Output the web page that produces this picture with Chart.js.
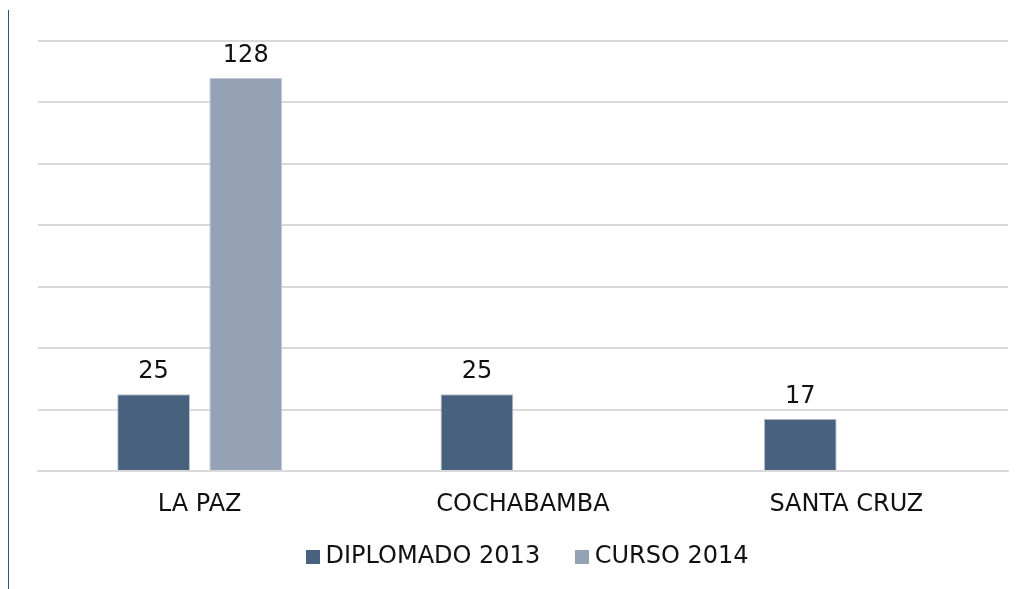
<!DOCTYPE html>
<html>
<head>
<meta charset="utf-8">
<script src="https://cdn.jsdelivr.net/npm/chart.js@4"></script>
<style>
  html, body { margin: 0; padding: 0; background: #fff; }
  #wrap { position: relative; width: 1022px; height: 589px; }
  #edge { position: absolute; left: 8px; top: 10px; width: 1px; height: 579px; background: #1f5a7c; }
</style>
</head>
<body>
<div id="wrap">
  <canvas id="chart" width="1022" height="589"></canvas>
  <div id="edge"></div>
</div>
<script>
// data
const categories = ["LA PAZ", "COCHABAMBA", "SANTA CRUZ"];
const diplomado2013 = [25, 25, 17];
const curso2014 = [128, null, null];
const seriesNames = ["DIPLOMADO 2013", "CURSO 2014"];
const yMax = 140;
const yStep = 20;

const fontFamily = "'DejaVu Sans', Verdana, sans-serif";

// legend swatch: 14px square, drawn so the text sits close to it
function swatch(color) {
  const c = document.createElement("canvas");
  c.width = 14;
  c.height = 14;
  const g = c.getContext("2d");
  g.fillStyle = color;
  g.fillRect(0, 0, 14, 14);
  return c;
}

// value labels above the bars
const valueLabels = {
  id: "valueLabels",
  afterDatasetsDraw(chart) {
    const ctx = chart.ctx;
    ctx.save();
    ctx.font = "24px " + fontFamily;
    ctx.fillStyle = "#111";
    ctx.textAlign = "center";
    ctx.textBaseline = "alphabetic";
    chart.data.datasets.forEach((ds, i) => {
      chart.getDatasetMeta(i).data.forEach((bar, j) => {
        if (ds.data[j] == null) return;
        ctx.fillText(String(ds.data[j]), bar.x, bar.y - 16);
      });
    });
    ctx.restore();
  }
};

document.addEventListener("DOMContentLoaded", () => {
  const ctx = document.getElementById("chart").getContext("2d");
  new Chart(ctx, {
    type: "bar",
    data: {
      labels: categories,
      datasets: [
        {
          label: seriesNames[0],
          data: diplomado2013,
          backgroundColor: "#48617f",
          borderColor: "#b9c3d1",
          borderWidth: 1,
          pointStyle: swatch("#48617f"),
        },
        {
          label: seriesNames[1],
          data: curso2014,
          backgroundColor: "#95a1b4",
          borderColor: "#c3cad6",
          borderWidth: 1,
          pointStyle: swatch("#95a1b4"),
        },
      ],
    },
    options: {
      responsive: false,
      animation: false,
      layout: { padding: { top: 41, left: 38, right: 0, bottom: 10 } },
      datasets: {
        bar: { categoryPercentage: 0.57, barPercentage: 0.79 },
      },
      scales: {
        x: {
          grid: { display: false, drawTicks: false },
          border: { display: true, color: "#d9d9d9", width: 2 },
          ticks: {
            padding: 19,
            color: "#111",
            font: { family: fontFamily, size: 24 },
          },
          afterFit(scale) { scale.height = 64; },
        },
        y: {
          position: "right",
          min: 0,
          max: yMax,
          ticks: { display: false, stepSize: yStep },
          grid: { color: "#d9d9d9", lineWidth: 2, drawTicks: false },
          border: { display: false },
          afterFit(scale) { scale.width = 14; },
        },
      },
      plugins: {
        legend: {
          position: "bottom",
          labels: {
            usePointStyle: true,
            pointStyleWidth: 2,
            boxHeight: 14,
            padding: 10,
            color: "#111",
            font: { family: fontFamily, size: 24 },
            // extra room after the first item, as in the picture
            generateLabels(chart) {
              const items = Chart.defaults.plugins.legend.labels.generateLabels(chart);
              items[0].text += "    ";
              return items;
            },
          },
        },
        tooltip: { enabled: false },
      },
    },
    plugins: [valueLabels],
  });
});
</script>
</body>
</html>
